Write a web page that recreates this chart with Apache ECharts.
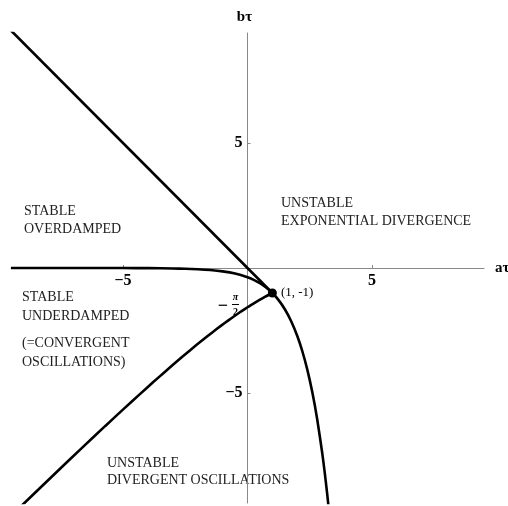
<!DOCTYPE html>
<html>
<head>
<meta charset="utf-8">
<script src="https://cdn.jsdelivr.net/npm/echarts@6/dist/echarts.min.js"></script>
<style>
  html, body {margin: 0; padding: 0; background: #fff;}
  #chart {width: 508px; height: 506px;}
</style>
</head>
<body>
<div id="chart"></div>
<script>
// b = -a, from the top-left corner down to (1, -1)
const diagLine = [[-9.5, 9.5], [1, -1]];

// real double-root boundary (along the axis, then diving down right)
const realBoundary = [
    [-9.5, -0.0000], [-7, -0.0003], [-5, -0.0025], [-4, -0.0067], [-3, -0.0183],
    [-2.5, -0.0302], [-2, -0.0498], [-1.5, -0.0821], [-1, -0.1353], [-0.5, -0.2231],
    [0, -0.3679], [0.25, -0.4724], [0.5, -0.6065], [0.75, -0.7788], [1, -1],
    [1.25, -1.284], [1.5, -1.6487], [1.75, -2.117], [2, -2.7183], [2.2, -3.3201],
    [2.4, -4.0552], [2.6, -4.953], [2.8, -6.0496], [3.0, -7.3891], [3.1, -8.1662],
    [3.2, -9.025], [3.3, -9.9742]
];

// oscillatory boundary (from (1,-1) down to the bottom-left)
const oscBoundary = [
    [1, -1], [0.970, -1.015], [0.877, -1.063], [0.714, -1.149], [0.467, -1.288],
    [0.106, -1.504], [0, -1.571], [-0.221, -1.714], [-0.420, -1.848], [-0.649, -2.008],
    [-0.915, -2.200], [-1.228, -2.433], [-1.601, -2.721], [-2.055, -3.084], [-2.620, -3.553],
    [-3.346, -4.177], [-3.796, -4.572], [-4.322, -5.044], [-4.950, -5.614], [-5.711, -6.317],
    [-6.659, -7.205], [-7.875, -8.358], [-9.495, -9.913]
];

const specialPoint = [[1, -1]];
const xTicks = [-5, 5];
const yTicks = [5, -5];

const serif = '"Liberation Serif", "DejaVu Serif", serif';
const chart = echarts.init(document.getElementById('chart'));

const regionText = (left, top, text, lh) => ({
    type: 'text', left: left, top: top,
    style: {text: text, font: '14px ' + serif, fill: '#222', lineHeight: lh}
});
const minusFmt = p => String(p.value[0] || p.value[1]).replace('-', '\u2212');
const tickLabel = {fontFamily: serif, fontWeight: 'bold', fontSize: 16, color: '#000', formatter: minusFmt};

const option = {
    animation: false,
    grid: {left: 11, top: 33, width: 473, height: 470, outerBoundsMode: 'none', containLabel: false},
    xAxis: {
        type: 'value', min: -9.5, max: 9.5,
        name: 'aτ', nameLocation: 'end', nameGap: 11,
        nameTextStyle: {fontFamily: serif, fontWeight: 'bold', fontSize: 15, color: '#000'},
        axisLine: {onZero: true, lineStyle: {color: '#888', width: 1}},
        axisTick: {show: true, inside: true, length: 3, customValues: xTicks, lineStyle: {color: '#888'}},
        axisLabel: {show: false},
        splitLine: {show: false}
    },
    yAxis: {
        type: 'value', min: -9.4, max: 9.4,
        name: 'bτ', nameLocation: 'end', nameGap: 8,
        nameTextStyle: {fontFamily: serif, fontWeight: 'bold', fontSize: 15, color: '#000', align: 'center', padding: [0, 6, 0, 0]},
        axisLine: {onZero: true, lineStyle: {color: '#888', width: 1}},
        axisTick: {show: true, inside: true, length: 3, customValues: yTicks, lineStyle: {color: '#888'}},
        axisLabel: {show: false},
        splitLine: {show: false}
    },
    series: [
        {type: 'line', data: diagLine, showSymbol: false, lineStyle: {color: '#000', width: 2.6}, z: 3},
        {type: 'line', data: realBoundary, showSymbol: false, smooth: 0.2, lineStyle: {color: '#000', width: 2.6}, z: 3},
        {type: 'line', data: oscBoundary, showSymbol: false, smooth: 0.2, lineStyle: {color: '#000', width: 2.6}, z: 3},
        {
            type: 'scatter', data: specialPoint, symbolSize: 9, itemStyle: {color: '#000', opacity: 1}, z: 4,
            label: {show: true, position: 'right', distance: 4, formatter: '(1, -1)', fontFamily: serif, fontSize: 13, color: '#000', opacity: 1}
        },
        // tick labels sitting on the zero-crossing axes
        {
            type: 'scatter', data: xTicks.map(v => [v, 0]), symbolSize: 0, silent: true,
            itemStyle: {opacity: 1, color: '#000'},
            label: Object.assign({show: true, position: 'bottom', distance: 5, opacity: 1}, tickLabel)
        },
        {
            type: 'scatter', data: yTicks.map(v => [0, v]), symbolSize: 0, silent: true,
            itemStyle: {opacity: 1, color: '#000'},
            label: Object.assign({show: true, position: 'left', distance: 5, opacity: 1}, tickLabel)
        }
    ],
    graphic: [
        regionText(24, 202, 'STABLE\nOVERDAMPED', 18),
        regionText(281, 194, 'UNSTABLE\nEXPONENTIAL DIVERGENCE', 18),
        regionText(22, 288, 'STABLE\nUNDERDAMPED', 19),
        regionText(22, 334, '(=CONVERGENT\nOSCILLATIONS)', 19),
        regionText(107, 455, 'UNSTABLE\nDIVERGENT OSCILLATIONS', 17),
        // -pi/2 label on the b axis
        {type: 'text', x: 223, y: 306, style: {text: '\u2212', font: 'bold 18px ' + serif, fill: '#000', align: 'center', verticalAlign: 'middle'}},
        {type: 'text', x: 235.5, y: 297, style: {text: 'π', font: 'italic bold 10px ' + serif, fill: '#000', align: 'center', verticalAlign: 'middle'}},
        {type: 'line', shape: {x1: 232, y1: 304.5, x2: 239, y2: 304.5}, style: {stroke: '#000', lineWidth: 1}},
        {type: 'text', x: 235.5, y: 312, style: {text: '2', font: 'bold 10px ' + serif, fill: '#000', align: 'center', verticalAlign: 'middle'}}
    ]
};
chart.setOption(option);
</script>
</body>
</html>
